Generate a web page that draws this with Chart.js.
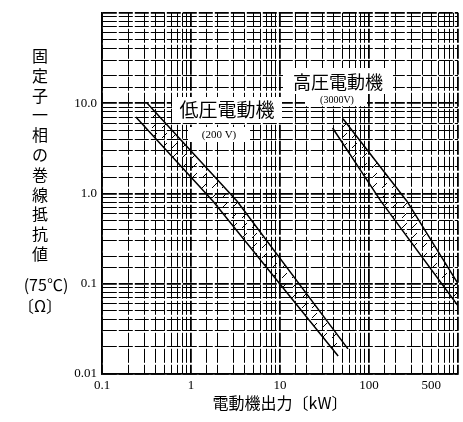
<!DOCTYPE html>
<html>
<head>
<meta charset="utf-8">
<script src="https://cdn.jsdelivr.net/npm/chart.js@4/dist/chart.umd.min.js"></script>
<style>
  html, body { margin: 0; padding: 0; background: #fff; }
  #wrap { width: 463px; height: 422px; }
</style>
</head>
<body>
<div id="wrap"><canvas id="chart" width="463" height="422"></canvas></div>
<script>
// axis labels
const xTickValues = [0.1, 1, 10, 100, 500];
const xTickLabels = ['0.1', '1', '10', '100', '500'];
const yTickValues = [0.01, 0.1, 1, 10];
const yTickLabels = ['0.01', '0.1', '1.0', '10.0'];

// 低圧電動機 (200 V) band edges
const lowUpperX = [0.32, 3.3, 58];
const lowUpperY = [10.0, 0.82, 0.019];
const lowLowerX = [0.24, 1.77, 45];
const lowLowerY = [7.0, 0.82, 0.0158];

// 高圧電動機 (3000 V) band edges
const highUpperX = [51, 267, 1000];
const highUpperY = [6.7, 0.82, 0.1];
const highLowerX = [39, 136, 1000];
const highLowerY = [5.3, 0.82, 0.057];

const pts = (xs, ys) => xs.map((x, i) => ({ x: x, y: ys[i] }));

// sparse slash hatching between the band edges
function hatch() {
  const c = document.createElement('canvas');
  c.width = 10; c.height = 10;
  const g = c.getContext('2d');
  g.strokeStyle = '#000';
  g.lineWidth = 1;
  g.beginPath();
  g.moveTo(2, 8);
  g.lineTo(7, 3);
  g.stroke();
  return g.createPattern(c, 'repeat');
}
const pattern = hatch();

const isLabelled = (v, list) => list.findIndex(t => Math.abs(Math.log10(v) - Math.log10(t)) < 1e-6);
const isMajor = v => Math.abs(Math.log10(v) - Math.round(Math.log10(v))) < 1e-6;

const edge = (data, fill) => ({
  data: data,
  borderColor: '#000',
  borderWidth: 1.5,
  pointRadius: 0,
  fill: fill,
  backgroundColor: pattern,
  tension: 0
});

const jp = '"Noto Sans CJK JP", "Noto Sans", sans-serif';

const labelPlugin = {
  id: 'labels',
  afterDatasetsDraw(chart) {
    const ctx = chart.ctx;
    ctx.save();
    ctx.fillStyle = '#fff';
    ctx.fillRect(172, 97, 110, 26);
    ctx.fillRect(188, 127, 62, 15);
    ctx.fillRect(283, 68, 110, 26);
    ctx.fillRect(305, 94, 62, 12);

    ctx.fillStyle = '#000';
    ctx.textAlign = 'center';
    ctx.textBaseline = 'middle';
    ctx.font = '19px ' + jp;
    ctx.fillText('低圧電動機', 227, 110);
    ctx.font = '18px ' + jp;
    ctx.fillText('高圧電動機', 338, 82);
    ctx.font = '11px "Liberation Serif", serif';
    ctx.fillText('(200 V)', 219, 135);
    ctx.font = '10px "Liberation Serif", serif';
    ctx.fillText('(3000V)', 337, 100);
    ctx.restore();
  },
  afterDraw(chart) {
    const ctx = chart.ctx;
    ctx.save();
    ctx.fillStyle = '#000';
    ctx.textAlign = 'center';
    ctx.textBaseline = 'middle';
    ctx.font = '16px ' + jp;
    const title = '固定子一相の巻線抵抗値';
    for (let i = 0; i < title.length; i++) {
      ctx.fillText(title[i], 40, 56 + i * 19.8);
    }
    ctx.fillText('(75℃)', 46, 285);
    ctx.fillText('〔Ω〕', 40, 306);
    ctx.restore();
  }
};

new Chart(document.getElementById('chart'), {
  type: 'line',
  data: {
    datasets: [
      edge(pts(lowLowerX, lowLowerY), '+1'),
      edge(pts(lowUpperX, lowUpperY), false),
      edge(pts(highLowerX, highLowerY), '+1'),
      edge(pts(highUpperX, highUpperY), false)
    ]
  },
  options: {
    responsive: false,
    animation: false,
    layout: { padding: { left: 0, top: 10, right: 5, bottom: 0 } },
    plugins: {
      legend: { display: false },
      tooltip: { enabled: false },
      filler: { propagate: false }
    },
    scales: {
      x: {
        type: 'logarithmic',
        min: 0.1,
        max: 1000,
        afterFit: s => { s.height = 48; },
        grid: {
          color: '#000',
          lineWidth: c => isMajor(c.tick.value) ? 1.8 : 1,
          drawTicks: false
        },
        border: { display: true, color: '#000', width: 1.8, dash: [14, 2] },
        ticks: {
          autoSkip: false,
          maxRotation: 0,
          padding: 4,
          color: '#000',
          font: { family: '"Liberation Serif", serif', size: 13 },
          callback: v => {
            const i = isLabelled(v, xTickValues);
            return i >= 0 ? xTickLabels[i] : '';
          }
        },
        title: {
          display: true,
          text: '電動機出力〔kW〕',
          color: '#000',
          font: { family: jp, size: 16 },
          padding: { top: 0, bottom: 9 }
        }
      },
      y: {
        type: 'logarithmic',
        min: 0.01,
        max: 100,
        afterFit: s => { s.width = 102; },
        grid: {
          color: '#000',
          lineWidth: c => isMajor(c.tick.value) ? 1.8 : 1,
          drawTicks: false
        },
        border: { display: true, color: '#000', width: 1.8, dash: [14, 2] },
        ticks: {
          autoSkip: false,
          padding: 5,
          color: '#000',
          font: { family: '"Liberation Serif", serif', size: 13 },
          callback: v => {
            const i = isLabelled(v, yTickValues);
            return i >= 0 ? yTickLabels[i] : '';
          }
        }
      }
    }
  },
  plugins: [labelPlugin]
});
</script>
</body>
</html>
